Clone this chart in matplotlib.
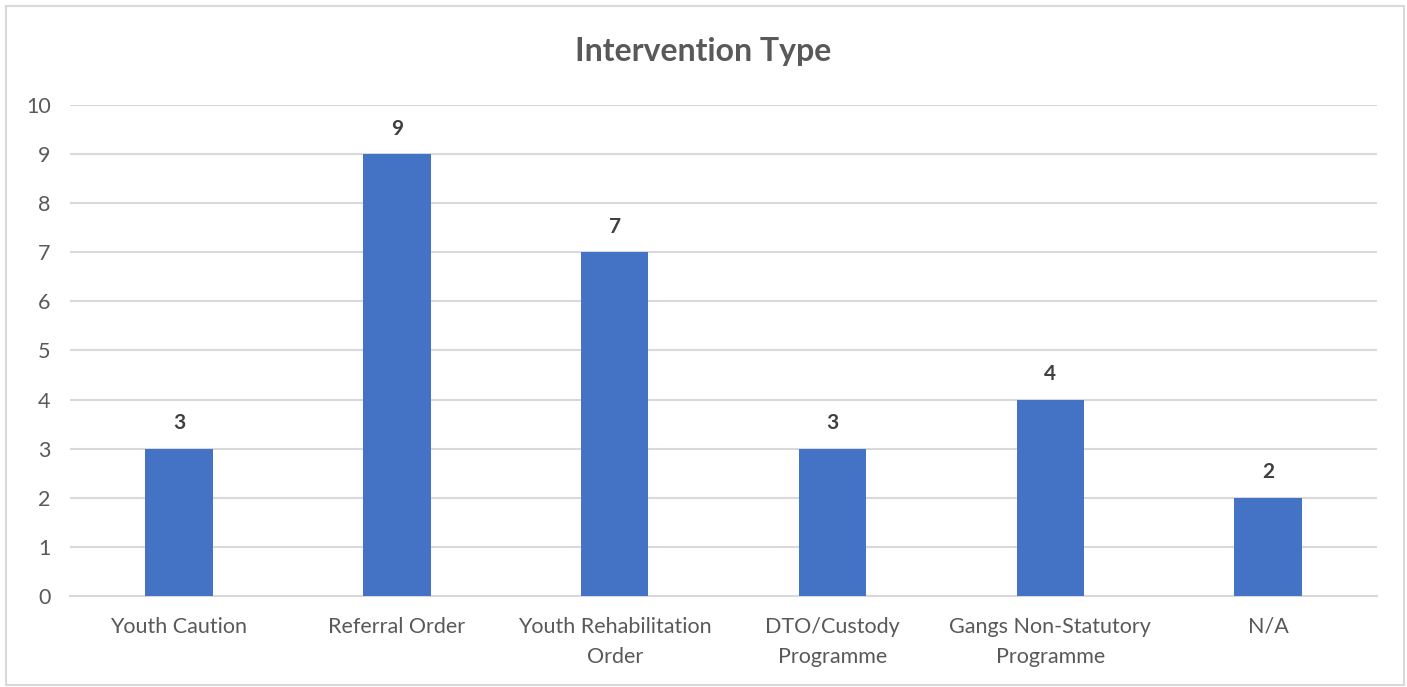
import matplotlib.pyplot as plt
from matplotlib.patches import Rectangle

# data
categories = ['Youth Caution', 'Referral Order', 'Youth Rehabilitation\nOrder',
              'DTO/Custody\nProgramme', 'Gangs Non-Statutory\nProgramme', 'N/A']
counts = [3, 9, 7, 3, 4, 2]
y_ticks = list(range(0, 11))

plt.rcParams['font.family'] = ['Lato', 'DejaVu Sans']

fig = plt.figure(figsize=(14.07, 6.87), dpi=100)
ax = fig.add_axes([0.0498, 0.1325, 0.9289, 0.7147])

x = range(len(categories))
bars = ax.bar(x, counts, width=0.31, color='#4472C4', zorder=3)

for b, v in zip(bars, counts):
    ax.annotate(str(v), (b.get_x() + b.get_width() / 2, v), xytext=(0, 11),
                textcoords='offset points', ha='center', va='bottom',
                fontsize=15, fontweight='bold', color='#404040')

ax.set_xlim(-0.5, len(categories) - 0.5)
ax.set_ylim(0, 10)
ax.set_yticks(y_ticks)
ax.set_xticks(list(x))
ax.set_xticklabels(categories, fontsize=15.5, color='#595959', linespacing=1.65)
ax.tick_params(axis='y', labelsize=15.5, labelcolor='#595959', length=0, pad=14)
ax.tick_params(axis='x', length=0, pad=15)
ax.grid(axis='y', color='#D9D9D9', linewidth=1.5, zorder=0)
for s in ['top', 'right', 'left']:
    ax.spines[s].set_visible(False)
ax.spines['bottom'].set_color('#D9D9D9')
ax.spines['bottom'].set_linewidth(1.5)

fig.text(0.5, 0.925, 'Intervention Type', ha='center', va='center',
         fontsize=23, fontweight='bold', color='#595959')

# chart border
fig.patches.append(Rectangle((6 / 1407, 2 / 687), 1398 / 1407, 679 / 687,
                             transform=fig.transFigure, fill=False,
                             edgecolor='#D9D9D9', linewidth=1.5))

fig.savefig('out.png', dpi=100)
